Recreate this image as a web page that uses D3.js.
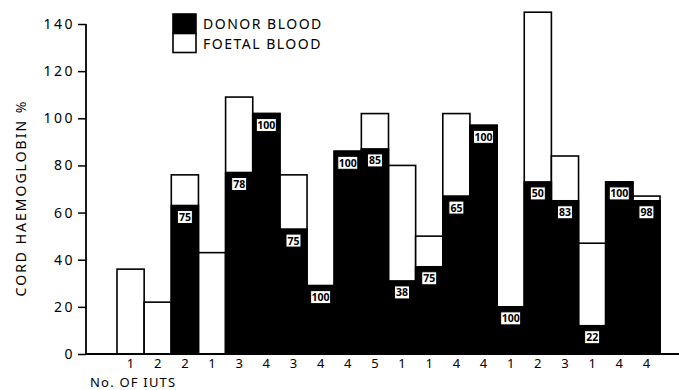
<!DOCTYPE html>
<html>
<head>
<meta charset="utf-8">
<script src="https://cdn.jsdelivr.net/npm/d3@7"></script>
<style>
  body { margin: 0; background: #fff; }
  svg { display: block; }
</style>
</head>
<body>
<div id="chart"></div>
<script>
// values
const iuts = ["1","2","2","1","3","4","3","4","4","5","1","1","4","4","1","2","3","1","4","4"];
const totalHb = [36, 22, 76, 43, 109, 102, 76, 29, 86, 102, 80, 50, 102, 97, 20, 145, 84, 47, 73, 67];
const donorHb = [0, 0, 63, 0, 77, 102, 53, 29, 86, 87, 31, 37, 67, 97, 20, 73, 65, 12, 73, 65];
const donorPct = [null, null, 75, null, 78, 100, 75, 100, 100, 85, 38, 75, 65, 100, 100, 50, 83, 22, 100, 98];
const yTicks = [0, 20, 40, 60, 80, 100, 120, 140];
const legendItems = [
  {label: "DONOR BLOOD", fill: "#000"},
  {label: "FOETAL BLOOD", fill: "#fff"}
];

const width = 679, height = 390;
const font = "'Noto Sans', 'DejaVu Sans', sans-serif";

const data = iuts.map((n, i) => ({
  i: i, n: n, total: totalHb[i], donor: donorHb[i], pct: donorPct[i]
}));

const svg = d3.select("#chart").append("svg")
    .attr("width", width)
    .attr("height", height);

const x = d3.scaleBand().domain(d3.range(data.length)).range([117, 660]).padding(0);
const y = d3.scaleLinear().domain([0, 140]).range([354, 24]);

// foetal (white) part spans whole bar, donor (black) drawn over it
svg.selectAll(".bar")
  .data(data)
  .enter().append("rect")
    .attr("class", "bar")
    .attr("x", d => x(d.i))
    .attr("width", x.bandwidth())
    .attr("y", d => y(d.total))
    .attr("height", d => y(0) - y(d.total))
    .attr("fill", "#fff")
    .attr("stroke", "#000")
    .attr("stroke-width", 1.6);

svg.selectAll(".donor")
  .data(data.filter(d => d.donor > 0))
  .enter().append("rect")
    .attr("class", "donor")
    .attr("x", d => x(d.i))
    .attr("width", x.bandwidth())
    .attr("y", d => y(d.donor))
    .attr("height", d => y(0) - y(d.donor))
    .attr("fill", "#000")
    .attr("stroke", "#000")
    .attr("stroke-width", 1.6);

// percentage boxes
const lab = svg.selectAll(".pct")
  .data(data.filter(d => d.pct != null))
  .enter().append("g")
    .attr("class", "pct")
    .attr("transform", d => "translate(" + (x(d.i) + x.bandwidth() / 2) + "," + (y(d.donor) + 5) + ")");

lab.append("rect")
    .attr("x", d => d.pct >= 100 ? -10 : -7.5)
    .attr("width", d => d.pct >= 100 ? 20 : 15)
    .attr("y", 0)
    .attr("height", 13)
    .attr("fill", "#fff")
    .attr("stroke", "#000")
    .attr("stroke-width", 1);

lab.append("text")
    .attr("x", 0)
    .attr("y", 10.5)
    .attr("text-anchor", "middle")
    .attr("font-family", font)
    .attr("font-weight", "bold")
    .attr("font-size", 10.5)
    .text(d => d.pct);

// y axis
const yAxis = svg.append("g")
    .attr("transform", "translate(86,0)")
    .call(d3.axisLeft(y).tickValues(yTicks).tickSize(8).tickPadding(3));
yAxis.select(".domain").attr("stroke-width", 1.8).attr("d", "M0," + y(140) + "V" + y(0));
yAxis.selectAll(".tick line").attr("stroke-width", 1.5);
yAxis.selectAll(".tick text")
    .attr("font-family", font)
    .attr("font-size", 14)
    .attr("letter-spacing", 2.5)
    .attr("fill", "#000");

// baseline
svg.append("line")
    .attr("x1", 86).attr("x2", 679)
    .attr("y1", y(0)).attr("y2", y(0))
    .attr("stroke", "#000")
    .attr("stroke-width", 1.8);

// x labels
svg.selectAll(".xl")
  .data(data)
  .enter().append("text")
    .attr("class", "xl")
    .attr("x", d => x(d.i) + x.bandwidth() / 2)
    .attr("y", 368)
    .attr("text-anchor", "middle")
    .attr("font-family", font)
    .attr("font-size", 13)
    .text(d => d.n);

svg.append("text")
    .attr("x", 90)
    .attr("y", 387)
    .attr("font-family", font)
    .attr("font-size", 13)
    .attr("letter-spacing", 1.2)
    .text("No. OF IUTS");

svg.append("text")
    .attr("transform", "translate(26,198) rotate(-90)")
    .attr("text-anchor", "middle")
    .attr("font-family", font)
    .attr("font-size", 14)
    .attr("letter-spacing", 2)
    .text("CORD HAEMOGLOBIN %");

// legend
const leg = svg.selectAll(".leg")
  .data(legendItems)
  .enter().append("g")
    .attr("class", "leg")
    .attr("transform", (d, i) => "translate(173," + (14 + i * 19.5) + ")");

leg.append("rect")
    .attr("width", 23)
    .attr("height", 19)
    .attr("fill", d => d.fill)
    .attr("stroke", "#000")
    .attr("stroke-width", 1.6);

leg.append("text")
    .attr("x", 30)
    .attr("y", 15)
    .attr("font-family", font)
    .attr("font-size", 14)
    .attr("letter-spacing", 1.5)
    .text(d => d.label);
</script>
</body>
</html>
